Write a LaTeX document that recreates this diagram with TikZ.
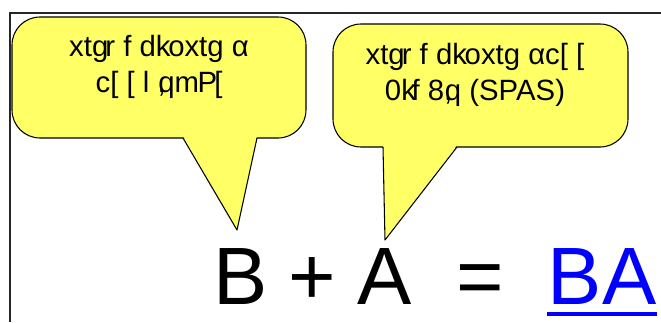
\documentclass[tikz,border=0pt]{standalone}
\usepackage{fontspec}
\setmainfont{Liberation Sans}
\usepackage{tikz}
\usetikzlibrary{calc}
\definecolor{bubblefill}{HTML}{FFFF66}
\definecolor{linkblue}{HTML}{0000FF}

\begin{document}
\begin{tikzpicture}[x=0.75pt, y=-0.75pt,
    bubble/.style={draw=black, line width=0.8pt, fill=bubblefill, rounded corners=21pt},
    tail/.style={draw=black, line width=0.8pt, line join=round},
    talk/.style={align=center, inner sep=0pt, font=\fontsize{22}{26.5}\selectfont},
    sym/.style={anchor=base, inner sep=0pt, font=\fontsize{61}{61}\selectfont}]
    \useasboundingbox (0,0) rectangle (661,322);
    % frame
    \draw[line width=1.1pt, black!85] (10,322) -- (10,13) -- (661,13);
    % speech bubbles
    \draw[bubble] (12,17) rectangle (306,138);
    \coordinate (tip1) at (237,230);
    \fill[bubblefill] (183,136) -- (tip1) -- (257,136) -- cycle;
    \draw[tail] (183,138) -- (tip1) -- (257,138);
    \draw[bubble] (333,24) rectangle (628,147);
    \coordinate (tip2) at (385,240);
    \fill[bubblefill] (383,145) -- (tip2) -- (457,145) -- cycle;
    \draw[tail] (383,147) -- (tip2) -- (457,147);
    \node[talk] (t1) at (159,67)
      {xtg\kern-.1em r f dk\kern-.08em oxtg α\\ c[ [ l ,\kern-.25em qm\kern-.05em P\kern-.1em[};
    \node[talk] (t2) at (475,75)
      {xtg\kern-.1em r f dk\kern-.08em oxtg αc[ [\\ 0k\kern-.15em f 8,\kern-.25em q (SPAS)};
    % equation
    \node[sym] (b) at (241,304) {B};
    \node[sym] (plus) at (312.5,304) {+};
    \node[sym] (a) at (385,304) {A};
    \node[sym] (eq) at (480.5,304) {=};
    \node[sym, text=linkblue] (ba) at (602,304) {BA};
    \draw[linkblue, line width=2.3pt] ([yshift=-7.5pt]ba.base west) -- ([yshift=-7.5pt]ba.base east);
\end{tikzpicture}
\end{document}
